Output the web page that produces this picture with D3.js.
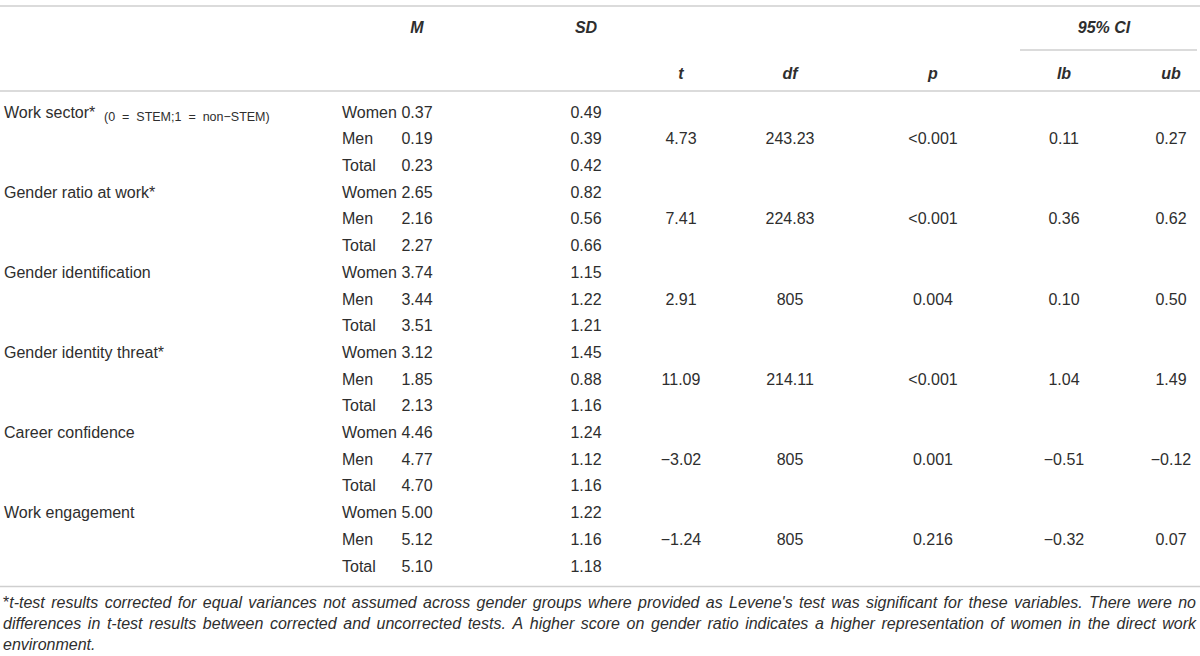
<!DOCTYPE html>
<html><head><meta charset="utf-8">
<script src="https://cdn.jsdelivr.net/npm/d3@7"></script>
<style>
html,body{margin:0;padding:0;background:#fff;}
svg{display:block;font-family:"Liberation Sans",Arial,Helvetica,sans-serif;}
</style></head>
<body>
<script>
const variables = ["Work sector*", "Gender ratio at work*", "Gender identification", "Gender identity threat*", "Career confidence", "Work engagement"];
const variableNotes = ["(0\u00a0\u00a0=\u00a0\u00a0STEM;1\u00a0\u00a0=\u00a0\u00a0non\u2212STEM)", "", "", "", "", ""];
const groups = ["Women", "Men", "Total"];
const means = [[0.37,0.19,0.23],[2.65,2.16,2.27],[3.74,3.44,3.51],[3.12,1.85,2.13],[4.46,4.77,4.70],[5.00,5.12,5.10]];
const sds = [[0.49,0.39,0.42],[0.82,0.56,0.66],[1.15,1.22,1.21],[1.45,0.88,1.16],[1.24,1.12,1.16],[1.22,1.16,1.18]];
const tVals = [4.73, 7.41, 2.91, 11.09, -3.02, -1.24];
const dfVals = [243.23, 224.83, 805, 214.11, 805, 805];
const pVals = ["<0.001", "<0.001", "0.004", "<0.001", "0.001", "0.216"];
const lbVals = [0.11, 0.36, 0.10, 1.04, -0.51, -0.32];
const ubVals = [0.27, 0.62, 0.50, 1.49, -0.12, 0.07];
const headers1 = [{key:"M", text:"M"}, {key:"SD", text:"SD"}, {key:"CI", text:"95% CI"}];
const headers2 = [{key:"t", text:"t"}, {key:"df", text:"df"}, {key:"p", text:"p"}, {key:"lb", text:"lb"}, {key:"ub", text:"ub"}];
const footnoteLines = [
  "t-test results corrected for equal variances not assumed across gender groups where provided as Levene's test was significant for these variables. There were no",
  "differences in t-test results between corrected and uncorrected tests. A higher score on gender ratio indicates a higher representation of women in the direct work",
  "environment."
];

const W = 1200, H = 656;
const TXT = "#2e2e2e", RULE = "#cfcfcf";
const FS = 16;
const svg = d3.select("body").append("svg").attr("width", W).attr("height", H);

const colKeys = ["M","SD","t","df","p","lb","ub","CI"];
const x = d3.scaleOrdinal().domain(colKeys).range([417, 586, 681, 790, 933, 1064, 1171, 1104]);
const nRows = variables.length * groups.length;
const y = d3.scalePoint().domain(d3.range(nRows)).range([112, 566]);
const f2 = d3.format(".2f");
const fnum = d => Number.isInteger(d) ? String(d) : f2(d);

// rules
const rules = [
  {x1:0, x2:W, y:6},
  {x1:1020, x2:1197, y:50},
  {x1:0, x2:W, y:91},
  {x1:0, x2:W, y:586.5}
];
svg.selectAll("line.rule").data(rules).join("line")
  .attr("x1", d=>d.x1).attr("x2", d=>d.x2).attr("y1", d=>d.y).attr("y2", d=>d.y)
  .attr("stroke", RULE).attr("stroke-width", 1.5);

// headers
svg.selectAll("text.h1").data(headers1).join("text")
  .attr("x", d=>x(d.key)).attr("y", 27).attr("dy","0.35em")
  .attr("text-anchor","middle").attr("font-size",FS).attr("font-weight","bold").attr("font-style","italic")
  .attr("fill", TXT).text(d=>d.text);
svg.selectAll("text.h2").data(headers2).join("text")
  .attr("x", d=>x(d.key)).attr("y", 73).attr("dy","0.35em")
  .attr("text-anchor","middle").attr("font-size",FS).attr("font-weight","bold").attr("font-style","italic")
  .attr("fill", TXT).text(d=>d.text);

// rows
const rows = [];
variables.forEach((v, i) => groups.forEach((g, j) => rows.push({i, j, v, g, m: means[i][j], sd: sds[i][j]})));
const body = svg.append("g").attr("font-size", FS).attr("fill", TXT);

// variable labels
const vl = body.selectAll("text.var").data(variables).join("text")
  .attr("x", 4).attr("y", (d,i)=>y(i*3)).attr("dy","0.35em");
vl.append("tspan").text(d=>d);
vl.filter((d,i)=>variableNotes[i]).append("tspan").attr("x", 104).attr("font-size", 12.5).attr("dy", 3.5)
  .text((d,i)=>variableNotes[i]);

body.selectAll("text.grp").data(rows).join("text")
  .attr("x", 342).attr("y", (d,k)=>y(k)).attr("dy","0.35em").text(d=>d.g);
body.selectAll("text.m").data(rows).join("text")
  .attr("x", x("M")).attr("y", (d,k)=>y(k)).attr("dy","0.35em").attr("text-anchor","middle").text(d=>f2(d.m));
body.selectAll("text.sd").data(rows).join("text")
  .attr("x", x("SD")).attr("y", (d,k)=>y(k)).attr("dy","0.35em").attr("text-anchor","middle").text(d=>f2(d.sd));

// test stats, on the middle (Men) row
const tests = variables.map((v,i)=>({i, t:tVals[i], df:dfVals[i], p:pVals[i], lb:lbVals[i], ub:ubVals[i]}));
const statCols = [
  {key:"t", fmt:d=>f2(d.t)},
  {key:"df", fmt:d=>fnum(d.df)},
  {key:"p", fmt:d=>d.p},
  {key:"lb", fmt:d=>f2(d.lb)},
  {key:"ub", fmt:d=>f2(d.ub)}
];
statCols.forEach(c => {
  body.selectAll("text.s-"+c.key).data(tests).join("text")
    .attr("x", x(c.key)).attr("y", d=>y(d.i*3+1)).attr("dy","0.35em").attr("text-anchor","middle")
    .text(c.fmt);
});

// footnote, justified
const fnLeft = 3, fnRight = 1196, fnY = [602, 623, 644];
const fn = svg.append("g").attr("font-size", FS).attr("fill", TXT);
footnoteLines.forEach((line, li) => {
  const words = line.split(" ");
  const g = fn.append("g");
  let startX = fnLeft;
  if (li === 0) {
    const star = g.append("text").attr("x", fnLeft).attr("y", fnY[li]).attr("dy","0.35em").text("*");
    startX += star.node().getComputedTextLength();
  }
  const ts = words.map(w => g.append("text").attr("y", fnY[li]).attr("dy","0.35em").attr("font-style","italic").text(w));
  const widths = ts.map(t => t.node().getComputedTextLength());
  const total = d3.sum(widths);
  const last = li === footnoteLines.length - 1;
  const gap = last || words.length < 2 ? 4.4 : (fnRight - startX - total) / (words.length - 1);
  let cx = startX;
  ts.forEach((t, k) => { t.attr("x", cx); cx += widths[k] + gap; });
});
</script>
</body></html>
